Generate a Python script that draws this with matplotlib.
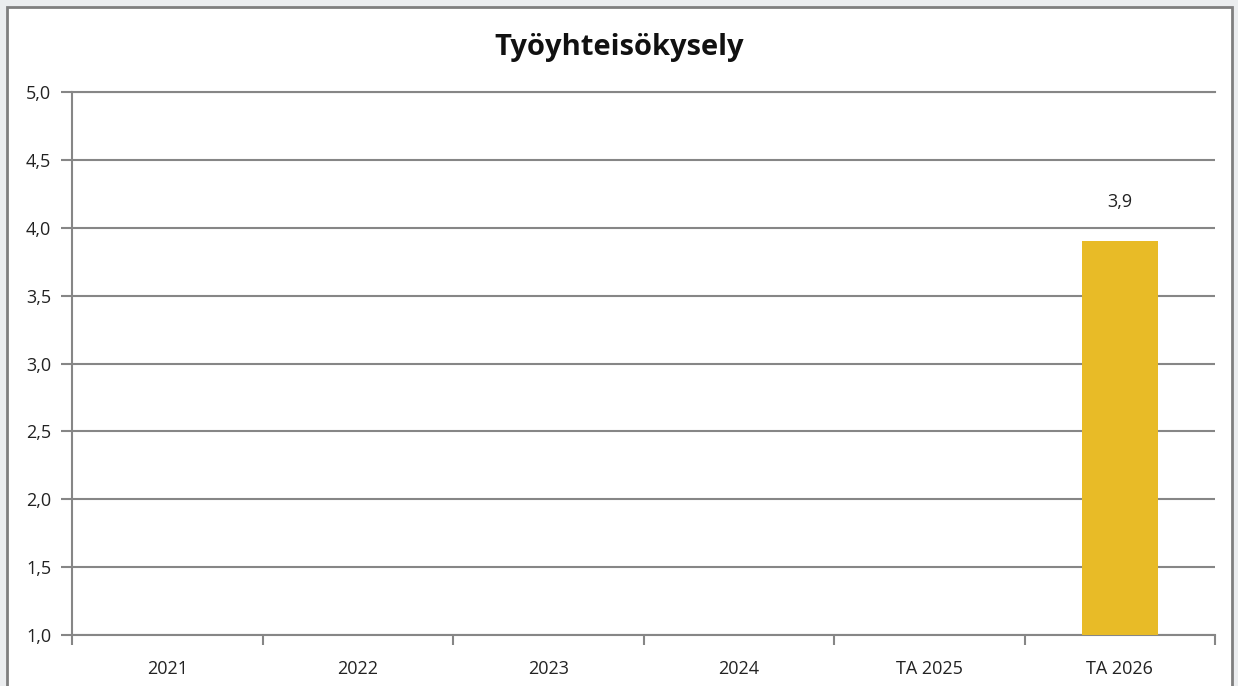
import matplotlib.pyplot as plt
from matplotlib.patches import Rectangle
from matplotlib.ticker import FuncFormatter, MultipleLocator
import numpy as np

# data
categories = ['2021', '2022', '2023', '2024', 'TA 2025', 'TA 2026']
values = [np.nan, np.nan, np.nan, np.nan, np.nan, 3.9]
title = 'Työyhteisökysely'

plt.rcParams['font.family'] = ['Open Sans', 'DejaVu Sans']

W, H = 1238, 686
fig = plt.figure(figsize=(W / 100, H / 100), dpi=100)
fig.patch.set_facecolor('#ebedef')

# white panel with a grey frame, bottom edge runs off the image
frame = Rectangle((7 / W, -0.02), (1232 - 7) / W, 1 - 7 / H + 0.02,
                  transform=fig.transFigure, facecolor='white',
                  edgecolor='#7f7f7f', linewidth=2, zorder=-10)
fig.patches.append(frame)

ax = fig.add_axes([72 / W, 1 - 635 / H, (1215 - 72) / W, (635 - 92) / H])
ax.set_facecolor('none')
ax.set_zorder(1)

x = np.arange(len(categories))
bars = ax.bar(x, values, width=0.4, color='#e8bb27', bottom=0, zorder=3)

ax.set_xlim(-0.5, len(categories) - 0.5)
ax.set_ylim(1.0, 5.0)
ax.yaxis.set_major_locator(MultipleLocator(0.5))
ax.yaxis.set_major_formatter(FuncFormatter(lambda v, p: f'{v:.1f}'.replace('.', ',')))
ax.grid(axis='y', color='#868686', linewidth=1.5, zorder=1)

ax.set_xticks(x)
ax.set_xticklabels(categories)
ax.set_xticks(np.arange(len(categories) + 1) - 0.5, minor=True)
ax.tick_params(axis='x', which='major', length=0, pad=18, labelsize=13, colors='#222222')
ax.tick_params(axis='x', which='minor', length=7, width=1.5, color='#868686', direction='out')
ax.tick_params(axis='y', length=8, width=1.5, color='#868686', labelsize=13,
               labelcolor='#222222', pad=7)

ax.spines['right'].set_visible(False)
for s in ['left', 'bottom', 'top']:
    ax.spines[s].set_color('#868686')
    ax.spines[s].set_linewidth(1.5)

for xi, v in zip(x, values):
    if not np.isnan(v):
        ax.annotate(f'{v:.1f}'.replace('.', ','), (xi, v), xytext=(0, 22),
                    textcoords='offset points', ha='center', va='bottom',
                    fontsize=13, color='#222222')

fig.text(0.5, 1 - 48 / H, title, ha='center', va='center', fontsize=21,
         fontweight='bold', color='#111111')

fig.savefig('out.png', dpi=100, facecolor=fig.get_facecolor())
